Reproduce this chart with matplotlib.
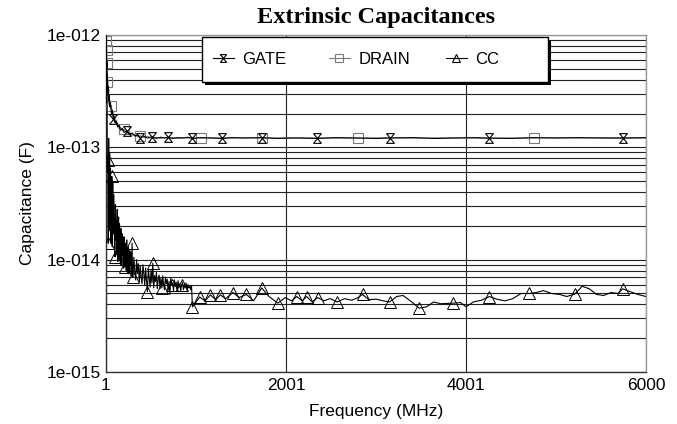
import numpy as np
import matplotlib
matplotlib.use("Agg")
import matplotlib.pyplot as plt
from matplotlib.ticker import LogLocator, NullFormatter, FixedLocator, FixedFormatter
from matplotlib.patches import Rectangle
from matplotlib.lines import Line2D
from matplotlib.legend import Legend

plt.rcParams['font.family'] = ['Liberation Sans', 'DejaVu Sans']

# ---------------- data ----------------
title = "Extrinsic Capacitances"
x_label = "Frequency (MHz)"
y_label = "Capacitance (F)"
x_ticks = [1, 2001, 4001, 6000]
x_tick_labels = ["1", "2001", "4001", "6000"]
y_ticks = [1e-15, 1e-14, 1e-13, 1e-12]
y_tick_labels = ["1e-015", "1e-014", "1e-013", "1e-012"]
series_names = ["GATE", "DRAIN", "CC"]

# GATE / DRAIN frequency grid (MHz)
gd_freq = [1, 3, 5, 8, 11, 14, 17, 21, 26, 31, 36, 41, 51, 61, 71, 81, 91, 101,
           116, 131, 146, 161, 181, 201, 231, 261, 291, 321, 351, 381, 421, 461,
           511, 561, 611, 651, 691, 741, 801, 861, 911, 961, 1051, 1151, 1291,
           1401, 1551, 1731, 1901, 2101, 2341, 2551, 2801, 3001, 3151, 3401,
           3651, 3901, 4101, 4251, 4501, 4751, 5001, 5251, 5501, 5741, 6000]

# GATE capacitance (x 1e-13 F)
gate_e13 = [10.0, 7.2, 8.0, 5.0, 5.8, 3.9, 4.4, 3.1, 3.5, 2.6, 2.9, 2.3, 2.5, 2.0,
            2.15, 1.8, 1.9, 1.65, 1.72, 1.52, 1.58, 1.42, 1.48, 1.36, 1.40, 1.30,
            1.34, 1.26, 1.29, 1.22, 1.26, 1.21, 1.24, 1.20, 1.23, 1.21, 1.23, 1.20,
            1.22, 1.21, 1.23, 1.20, 1.22, 1.21, 1.20, 1.22, 1.21, 1.22, 1.20, 1.21,
            1.20, 1.22, 1.21, 1.20, 1.21, 1.22, 1.20, 1.21, 1.22, 1.21, 1.20, 1.22,
            1.21, 1.22, 1.21, 1.21, 1.22]

# DRAIN capacitance (x 1e-13 F)
drain_e13 = [9.5, 8.8, 6.5, 7.4, 4.6, 5.6, 3.8, 4.0, 2.9, 3.3, 2.4, 2.7, 2.2, 2.35,
             1.95, 2.05, 1.75, 1.82, 1.58, 1.65, 1.47, 1.52, 1.40, 1.45, 1.33, 1.37,
             1.28, 1.31, 1.24, 1.27, 1.22, 1.25, 1.21, 1.23, 1.20, 1.22, 1.21, 1.22,
             1.20, 1.22, 1.21, 1.21, 1.21, 1.22, 1.21, 1.21, 1.22, 1.21, 1.21, 1.22,
             1.21, 1.21, 1.21, 1.21, 1.22, 1.21, 1.21, 1.22, 1.21, 1.20, 1.21, 1.21,
             1.22, 1.21, 1.22, 1.21, 1.21]

gate_marker_freq = [81, 231, 381, 511, 691, 961, 1291, 1731, 2341, 3151, 4251, 5741]
drain_marker_freq = [3, 8, 14, 17, 61, 201, 381, 1051, 1731, 2801, 4751]

# CC frequency grid (MHz): 5 MHz sweep, then 10 MHz sweep, then coarser points
cc_freq = (list(range(1, 300, 5)) + list(range(301, 952, 10)) +
           [961, 1041, 1101, 1161, 1221, 1271, 1331, 1411, 1481, 1561, 1641, 1731,
            1811, 1911, 1991, 2061, 2121, 2181, 2231, 2291, 2351, 2421, 2491, 2571,
            2651, 2731, 2801, 2851, 2921, 3001, 3081, 3151, 3231, 3301, 3381, 3481,
            3561, 3641, 3721, 3851, 3941, 4001, 4081, 4171, 4261, 4341, 4431, 4521,
            4611, 4701, 4781, 4861, 4951, 5041, 5121, 5211, 5291, 5371, 5451, 5531,
            5611, 5691, 5741, 5821, 5911, 6000])

# CC capacitance (x 1e-15 F)
cc_e15 = [
    # 1 .. 296 MHz
    1000, 250, 420, 60, 77, 14, 120, 18, 90, 24, 65, 14, 40, 55, 13, 50, 17, 38, 28, 12,
    10.6, 31, 15, 22, 11, 28, 9.6, 18, 24, 10, 21, 13, 9.1, 19, 16, 8.8, 17, 11, 15, 8.4,
    16, 10, 8.6, 14, 12, 8, 15, 9.5, 12.5, 7.6, 13, 10, 7.5, 12, 9, 11.5, 7.2, 10.5, 14, 7.0,
    # 301 .. 951 MHz
    7.0, 10.5, 8.0, 6.6, 10, 7.5, 9.2, 6.3, 8.8, 7.0,
    6.1, 9.0, 7.6, 5.9, 8.4, 6.5, 5.2, 8.2, 7.0, 5.7,
    8.0, 6.2, 9.3, 5.6, 7.2, 6.4, 7.7, 5.5, 6.7, 7.3,
    5.5, 6.8, 5.6, 7.2, 6.0, 5.4, 7.0, 6.1, 6.7, 5.3,
    6.4, 4.9, 6.9, 5.95, 6.2, 5.3, 6.6, 5.8, 6.3, 5.2,
    6.5, 5.7, 6.1, 5.3, 5.95, 6.3, 5.4, 6.0, 5.6, 6.2,
    5.3, 6.0, 5.6, 5.8, 5.4, 5.9,
    # 961 .. 6000 MHz
    3.8, 4.65, 4.3, 4.85, 4.4, 4.85, 4.5, 5.1, 4.6, 4.9, 4.3, 5.6,
    4.7, 4.1, 4.6, 4.3, 4.7, 4.3, 4.7, 4.2, 4.6, 4.3, 4.5, 4.2,
    4.5, 4.35, 4.6, 4.9, 4.4, 4.45, 4.3, 4.2, 4.7, 4.8, 4.3, 3.7,
    3.8, 4.2, 4.05, 4.1, 4.15, 3.8, 4.2, 4.35, 4.7, 4.45, 4.3, 4.5,
    5.0, 5.0, 5.1, 5.3, 5.0, 4.9, 4.7, 4.95, 5.8, 5.5, 4.9, 4.8,
    5.1, 5.0, 5.5, 5.2, 4.9, 4.7]

cc_marker_freq = [21, 26, 66, 101, 211, 291, 301, 461, 521, 621, 731, 841, 961,
                  1041, 1161, 1271, 1411, 1561, 1731, 1911, 2121, 2231, 2351, 2571,
                  2851, 3151, 3481, 3851, 4261, 4701, 5211, 5741]

assert len(gd_freq) == len(gate_e13) == len(drain_e13)
assert len(cc_freq) == len(cc_e15), (len(cc_freq), len(cc_e15))

gate = np.array(gate_e13) * 1e-13
drain = np.array(drain_e13) * 1e-13
cc = np.array(cc_e15) * 1e-15

def idx(freqs, marks):
    return [freqs.index(m) for m in marks]

hourglass = [(-0.8, 1), (0.8, 1), (-0.8, -1), (0.8, -1), (-0.8, 1)]

# ---------------- figure ----------------
fig = plt.figure(figsize=(6.77, 4.24), dpi=100)
ax = fig.add_axes([106/677, 1-372/424, 540/677, 337/424])

ax.set_yscale('log')
ax.set_xlim(1, 6000)
ax.set_ylim(1e-15, 1e-12)

styles = [
    dict(color='black', marker=hourglass, ms=7, mec='black'),
    dict(color='#7a7a7a', marker='s', ms=7, mec='#7a7a7a'),
    dict(color='black', marker='^', ms=8, mec='black'),
]
ax.plot(gd_freq, gate, lw=0.8, mfc='none', mew=0.8,
        markevery=idx(gd_freq, gate_marker_freq), zorder=4, **styles[0])
ax.plot(gd_freq, drain, lw=0.8, mfc='none', mew=0.8,
        markevery=idx(gd_freq, drain_marker_freq), zorder=3, **styles[1])
ax.plot(cc_freq, cc, lw=0.8, mfc='none', mew=0.7,
        markevery=idx(cc_freq, cc_marker_freq), zorder=4, **styles[2])

# ticks and grid
ax.xaxis.set_major_locator(FixedLocator(x_ticks))
ax.xaxis.set_major_formatter(FixedFormatter(x_tick_labels))
ax.yaxis.set_major_locator(FixedLocator(y_ticks))
ax.yaxis.set_major_formatter(FixedFormatter(y_tick_labels))
ax.yaxis.set_minor_locator(LogLocator(base=10, subs=range(2, 10)))
ax.yaxis.set_minor_formatter(NullFormatter())
ax.tick_params(which='both', length=0, labelsize=12.5, pad=4)
ax.grid(True, which='both', axis='y', color='#222222', lw=0.8)
ax.grid(True, which='major', axis='x', color='#222222', lw=0.8)
ax.set_axisbelow(True)

for s in ['left', 'bottom']:
    ax.spines[s].set_color('#333333')
    ax.spines[s].set_linewidth(1.0)
for s in ['right', 'top']:
    ax.spines[s].set_color('#999999')
    ax.spines[s].set_linewidth(1.0)

ax.set_xlabel(x_label, fontsize=12.5, labelpad=8)
ax.set_ylabel(y_label, fontsize=12.5, labelpad=8)
fig.text(376/677, 1-17/424, title, ha='center', va='center', fontsize=17.5,
         fontweight='bold', family='Liberation Serif')

# legend box with hard shadow
bx, by, bw, bh = (202-106)/540, 1-(82-35)/337, 346/540, 45/337
ax.add_patch(Rectangle((bx + 3/540, by - 3/337), bw, bh, transform=ax.transAxes,
                       facecolor='black', edgecolor='none', zorder=8, clip_on=False))
ax.add_patch(Rectangle((bx, by), bw, bh, transform=ax.transAxes,
                       facecolor='white', edgecolor='black', lw=1.0, zorder=9,
                       clip_on=False))
legend_x = [(213-106)/540, (329-106)/540, (446-106)/540]
legend_y = 1-(59-35)/337
for name, st, lx in zip(series_names, styles, legend_x):
    h = Line2D([], [], lw=0.8, mfc='none', mew=0.8,
               color=st['color'], marker=st['marker'], ms=st['ms']*0.8, mec=st['mec'])
    lg = Legend(ax, [h], [name], loc='center left', bbox_to_anchor=(lx, legend_y),
                bbox_transform=ax.transAxes,
                borderaxespad=0, borderpad=0, frameon=False, fontsize=12,
                handlelength=1.25, handletextpad=0.5)
    lg.set_zorder(10)
    ax.add_artist(lg)

fig.savefig('out.png', dpi=100)
